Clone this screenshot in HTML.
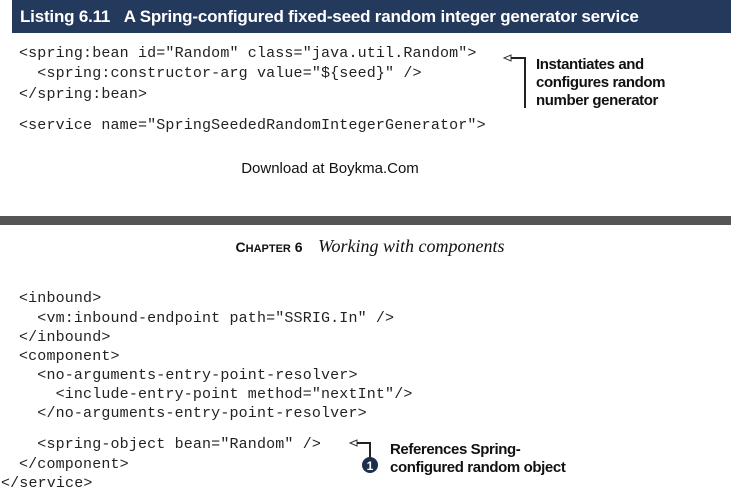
<!DOCTYPE html>
<html><head><style>
body{margin:0;width:731px;height:494px;background:#fff;position:relative;overflow:hidden;font-family:"Liberation Sans",sans-serif}
.hdr{position:absolute;left:12px;top:0;width:719px;height:33px;background:#233a5c;color:#fff;font-weight:bold;font-size:17px;line-height:33px;text-indent:8px;letter-spacing:-0.2px}
.c{position:absolute;font-family:"Liberation Mono",monospace;font-size:15px;color:#222;white-space:pre;line-height:20px;letter-spacing:0.15px}
.a{position:absolute;font-weight:bold;font-size:15px;color:#111;line-height:18px;letter-spacing:-0.4px}
.gray{position:absolute;left:0;top:216px;width:731px;height:9px;background:#555}
</style></head><body>
<div class="hdr">Listing 6.11&nbsp;&nbsp;&nbsp;A Spring-configured fixed-seed random integer generator service</div>
<div class="c" style="left:19px;top:44px">&lt;spring:bean id="Random" class="java.util.Random"&gt;</div>
<div class="c" style="left:19px;top:64px">  &lt;spring:constructor-arg value="${seed}" /&gt;</div>
<div class="c" style="left:19px;top:85px">&lt;/spring:bean&gt;</div>
<div class="c" style="left:19px;top:116px">&lt;service name="SpringSeededRandomIntegerGenerator"&gt;</div>
<svg style="position:absolute;left:0;top:0" width="731" height="494">
<path d="M504 58 L511 55 L511 61 Z" fill="none" stroke="#333" stroke-width="1"/>
<path d="M511 58 L525 58 L525 108" fill="none" stroke="#222" stroke-width="2"/>
<path d="M350 443 L357 440 L357 446 Z" fill="none" stroke="#333" stroke-width="1"/>
<path d="M357 443 L370 443 L370 458" fill="none" stroke="#222" stroke-width="2"/>
<circle cx="370" cy="465" r="8" fill="#1e2f4d"/>
<text x="370" y="470" fill="#fff" font-size="12" font-weight="bold" text-anchor="middle" font-family="Liberation Sans">1</text>
</svg>
<div class="a" style="left:536px;top:56px">Instantiates and<br>configures random<br>number generator</div>
<div style="position:absolute;left:0;top:160px;width:660px;text-align:center;font-size:15px;color:#111">Download at Boykma.Com</div>
<div class="gray"></div>
<div style="position:absolute;left:0;top:236px;width:740px;text-align:center;font-size:14px;color:#111"><b style="font-size:14px">C<span style="font-size:11px">HAPTER</span> 6</b>&nbsp;&nbsp;&nbsp;&nbsp;<i style="font-family:'Liberation Serif',serif;font-size:18px">Working with components</i></div>
<div class="c" style="left:19px;top:289px">&lt;inbound&gt;</div>
<div class="c" style="left:19px;top:309px">  &lt;vm:inbound-endpoint path="SSRIG.In" /&gt;</div>
<div class="c" style="left:19px;top:328px">&lt;/inbound&gt;</div>
<div class="c" style="left:19px;top:347px">&lt;component&gt;</div>
<div class="c" style="left:19px;top:366px">  &lt;no-arguments-entry-point-resolver&gt;</div>
<div class="c" style="left:19px;top:385px">    &lt;include-entry-point method="nextInt"/&gt;</div>
<div class="c" style="left:19px;top:404px">  &lt;/no-arguments-entry-point-resolver&gt;</div>
<div class="c" style="left:19px;top:435px">  &lt;spring-object bean="Random" /&gt;</div>
<div class="c" style="left:19px;top:455px">&lt;/component&gt;</div>
<div class="c" style="left:1px;top:474px">&lt;/service&gt;</div>
<div class="a" style="left:390px;top:441px">References Spring-<br>configured random object</div>
</body></html>
